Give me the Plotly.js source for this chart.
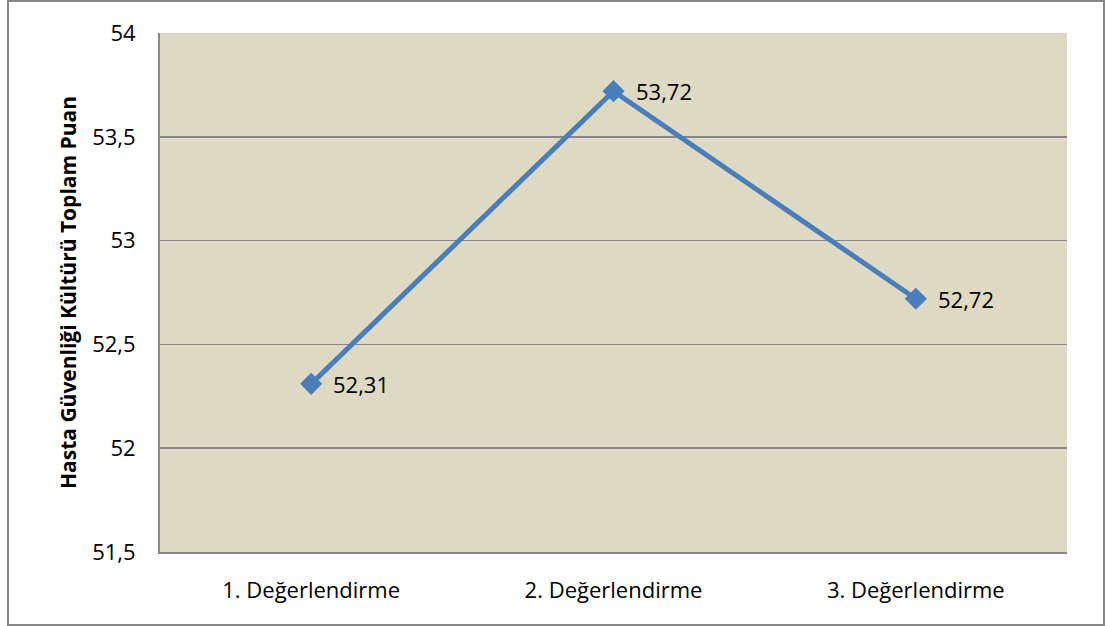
<!DOCTYPE html>
<html>
<head>
<meta charset="utf-8">
<script src="https://cdn.plot.ly/plotly-3.0.1.min.js"></script>
<style>
html,body{margin:0;padding:0;background:#fff;}
#chart{width:1105px;height:626px;}
</style>
</head>
<body>
<div id="chart"></div>
<script>
const categories = ["1. Değerlendirme", "2. Değerlendirme", "3. Değerlendirme"];
const values = [52.31, 53.72, 52.72];
const valueLabels = ["52,31", "53,72", "52,72"];
const yTickVals = [51.5, 52, 52.5, 53, 53.5, 54];
const yTickText = ["51,5", "52", "52,5", "53", "53,5", "54"];
const yTitle = "Hasta Güvenliği Kültürü Toplam Puan";

const FONT = "Open Sans, Noto Sans, sans-serif";

const trace = {
  type: "scatter",
  mode: "lines+markers",
  x: categories,
  y: values,
  line: {color: "#4A7EBB", width: 5},
  marker: {symbol: "diamond", size: 17, color: "#4A7EBB"},
  cliponaxis: false,
  hoverinfo: "none"
};

const annotations = categories.map((c, i) => ({
  x: c, y: values[i], xref: "x", yref: "y",
  text: valueLabels[i], showarrow: false,
  xanchor: "left", yanchor: "middle", xshift: 20,
  font: {family: FONT, size: 22, color: "#000"}
}));

const layout = {
  width: 1105, height: 626,
  margin: {l: 160, r: 38, t: 33, b: 74},
  paper_bgcolor: "#ffffff",
  plot_bgcolor: "#DDD9C3",
  showlegend: false,
  font: {family: FONT, size: 22, color: "#000"},
  xaxis: {
    type: "category",
    range: [-0.5, 2.5],
    showgrid: false,
    zeroline: false,
    showline: true, linecolor: "#868686", linewidth: 2,
    ticks: "", ticklabelstandoff: 18,
    tickfont: {family: FONT, size: 22, color: "#000"},
    fixedrange: true
  },
  yaxis: {
    range: [51.5, 54],
    tickvals: yTickVals,
    ticktext: yTickText,
    showgrid: true, gridcolor: "#868686", gridwidth: 1.5,
    zeroline: false,
    showline: true, linecolor: "#868686", linewidth: 2,
    ticks: "", ticklabelstandoff: 18,
    tickfont: {family: FONT, size: 22, color: "#000"},
    title: {text: yTitle, standoff: 10, font: {family: FONT, size: 21, color: "#000", weight: "bold"}},
    automargin: false,
    fixedrange: true
  },
  annotations: annotations,
  shapes: [{
    type: "rect", xref: "paper", yref: "paper",
    x0: -0.1676, x1: 1.0408, y0: -0.1407, y1: 1.0617,
    line: {color: "#868686", width: 2}, fillcolor: "rgba(0,0,0,0)", layer: "below"
  }]
};

Plotly.newPlot("chart", [trace], layout, {displayModeBar: false, staticPlot: true});
</script>
</body>
</html>
